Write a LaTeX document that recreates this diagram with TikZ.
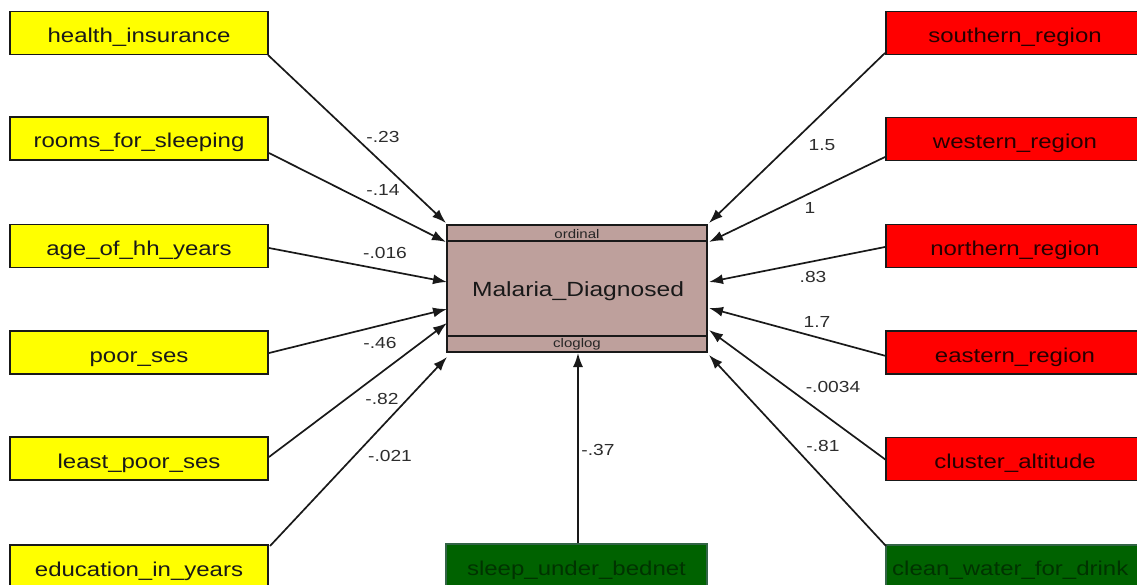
\documentclass[tikz,border=0pt]{standalone}
\usepackage{fontspec}
\setmainfont{Liberation Sans}[FakeStretch=1.2]
\usetikzlibrary{arrows.meta,calc}
\definecolor{yel}{RGB}{255,255,0}
\definecolor{rd}{RGB}{255,0,0}
\definecolor{dgreen}{RGB}{0,98,0}
\definecolor{gborder}{RGB}{50,100,70}
\definecolor{mainfill}{RGB}{190,160,156}
\definecolor{labgray}{RGB}{45,45,45}
\begin{document}
\begin{tikzpicture}[x=1pt,y=-1pt,
  var/.style={draw=black!90, line width=1.5pt, minimum width=258pt, minimum height=43pt, inner sep=0pt, text height=19pt, text depth=0pt, font=\fontsize{20}{24}\selectfont, text=black!90},
  yvar/.style={var, fill=yel},
  rvar/.style={var, fill=rd, text=black!85!red},
  gvar/.style={var, fill=dgreen, draw=gborder, text=black!80!green},
  arr/.style={line width=1.7pt, black!90, -{Latex[length=14pt,width=10pt]}},
  coef/.style={font=\fontsize{16}{19}\selectfont, text=labgray, inner sep=1pt}]
\useasboundingbox (0,0) rectangle (1137,585);
\fill[white] (0,0) rectangle (1137,585);
\clip (0,0) rectangle (1137,585);

% left predictors
\node[yvar] (hi) at (139,33) {health\_insurance};
\node[yvar] (rfs) at (139,138.5) {rooms\_for\_sleeping};
\node[yvar] (age) at (139,246) {age\_of\_hh\_years};
\node[yvar] (poor) at (139,352.5) {poor\_ses};
\node[yvar] (least) at (139,458.5) {least\_poor\_ses};
\node[yvar] (edu) at (139,566.5) {education\_in\_years};

% right predictors
\node[rvar] (south) at (1015,33) {southern\_region};
\node[rvar] (west) at (1015,139) {western\_region};
\node[rvar] (north) at (1015,246) {northern\_region};
\node[rvar] (east) at (1015,352.5) {eastern\_region};
\node[rvar] (clus) at (1015,459) {cluster\_altitude};
\node[gvar] (clean) at (1015,566.5) {};
\node[anchor=west, font=\fontsize{20}{24}\selectfont, text=black!80!green, inner sep=0pt] (cleantxt) at (892,570) {clean\_water\_for\_drink};

% bottom predictor
\node[gvar, minimum width=261pt] (bed) at (576.5,565.5) {sleep\_under\_bednet};

% outcome
\node[draw=black!90, line width=1.5pt, fill=mainfill, minimum width=260pt, minimum height=127pt, inner sep=0pt] (main) at (577,288.5) {};
\draw[line width=2.2pt, black!90] ($(main.north west)+(0,17)$) -- ($(main.north east)+(0,17)$);
\draw[line width=2.2pt, black!90] ($(main.south west)+(0,-17)$) -- ($(main.south east)+(0,-17)$);
\node[font=\fontsize{12.5}{14}\selectfont, text=black!85, inner sep=0pt] (ord) at (577,234) {ordinal};
\node[font=\fontsize{12.5}{14}\selectfont, text=black!85, inner sep=0pt] (clog) at (577,344) {cloglog};
\node[font=\fontsize{20.5}{24}\selectfont, text=black!90, inner sep=0pt] (mtxt) at (578,291) {Malaria\_Diagnosed};

% connector end points
\coordinate (s1) at (268,55);  \coordinate (e1) at (446,223);
\coordinate (s2) at (269,153); \coordinate (e2) at (446,242);
\coordinate (s3) at (269,248); \coordinate (e3) at (447,282);
\coordinate (s4) at (269,353); \coordinate (e4) at (447,309);
\coordinate (s5) at (269,457); \coordinate (e5) at (447,323);
\coordinate (s6) at (270,546); \coordinate (e6) at (447,357);
\coordinate (t1) at (885,53);  \coordinate (f1) at (709,223);
\coordinate (t2) at (885,157); \coordinate (f2) at (709,242);
\coordinate (t3) at (885,247); \coordinate (f3) at (709,282);
\coordinate (t4) at (886,356); \coordinate (f4) at (709,308);
\coordinate (t5) at (886,460); \coordinate (f5) at (709,330);
\coordinate (t6) at (886,546); \coordinate (f6) at (709,355);
\coordinate (b0) at (578,543); \coordinate (b1) at (578,353);

\draw[arr] (s1) -- (e1);
\draw[arr] (s2) -- (e2);
\draw[arr] (s3) -- (e3);
\draw[arr] (s4) -- (e4);
\draw[arr] (s5) -- (e5);
\draw[arr] (s6) -- (e6);
\draw[arr] (t1) -- (f1);
\draw[arr] (t2) -- (f2);
\draw[arr] (t3) -- (f3);
\draw[arr] (t4) -- (f4);
\draw[arr] (t5) -- (f5);
\draw[arr] (t6) -- (f6);
\draw[arr] (b0) -- (b1);

% coefficients
\node[coef] (c1) at (383,137) {-.23};
\node[coef] (c2) at (383,190) {-.14};
\node[coef] (c3) at (385,253) {-.016};
\node[coef] (c4) at (380,343) {-.46};
\node[coef] (c5) at (382,399) {-.82};
\node[coef] (c6) at (390,456) {-.021};
\node[coef] (d1) at (822,145) {1.5};
\node[coef] (d2) at (810,208) {1};
\node[coef] (d3) at (813,277) {.83};
\node[coef] (d4) at (817,322) {1.7};
\node[coef] (d5) at (833,387) {-.0034};
\node[coef] (d6) at (823,446) {-.81};
\node[coef] (g1) at (598,450) {-.37};
\end{tikzpicture}
\end{document}
